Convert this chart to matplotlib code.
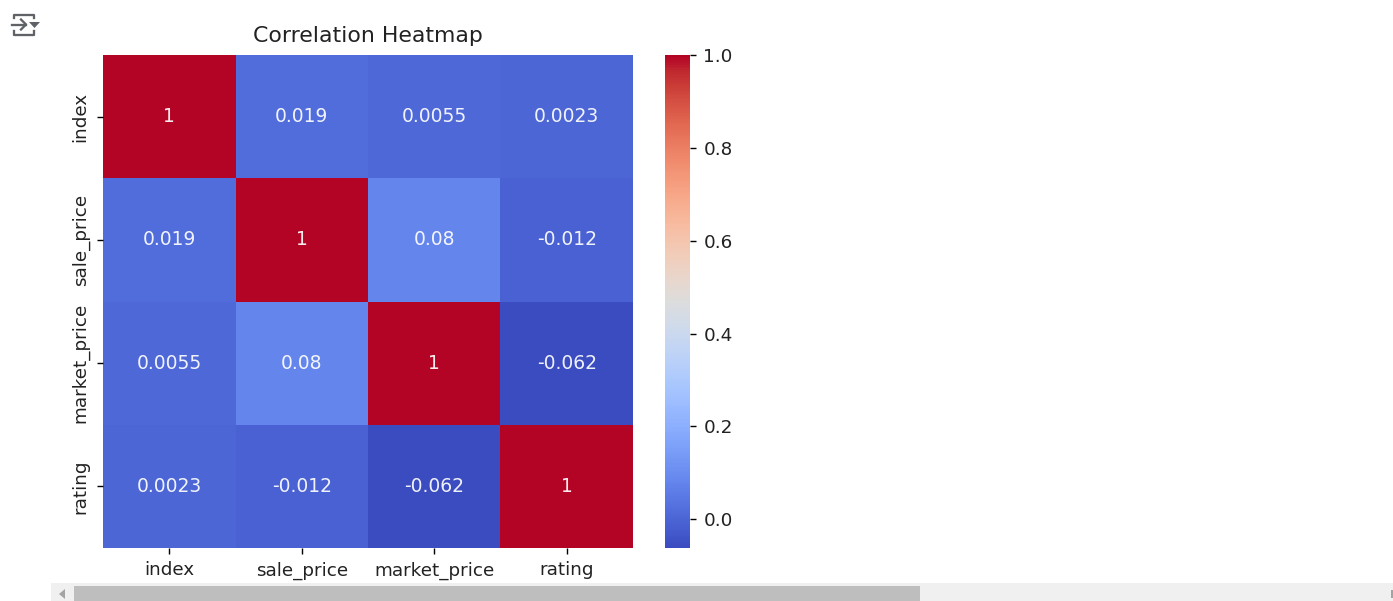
import numpy as np
import matplotlib
matplotlib.use("Agg")
import matplotlib.pyplot as plt
import seaborn as sns
from matplotlib.lines import Line2D
from matplotlib.patches import Rectangle, Polygon

W, H = 1393, 601
DPI = 144

columns = ["index", "sale_price", "market_price", "rating"]
corr = np.array([
    [1, 0.019, 0.0055, 0.0023],
    [0.019, 1, 0.08, -0.012],
    [0.0055, 0.08, 1, -0.062],
    [0.0023, -0.012, -0.062, 1],
])

plt.rcParams["text.color"] = "#222222"
plt.rcParams["xtick.labelcolor"] = "#222222"
plt.rcParams["ytick.labelcolor"] = "#222222"
plt.rcParams["axes.titlecolor"] = "#222222"
plt.rcParams["xtick.labelsize"] = 9.2
plt.rcParams["ytick.labelsize"] = 9.2
plt.rcParams["xtick.major.size"] = 3.2
plt.rcParams["ytick.major.size"] = 3.2
plt.rcParams["xtick.major.width"] = 0.7
plt.rcParams["ytick.major.width"] = 0.7


def box(x0, y0, x1, y1):
    return [x0 / W, 1 - y1 / H, (x1 - x0) / W, (y1 - y0) / H]


fig = plt.figure(figsize=(W / DPI, H / DPI), dpi=DPI)
ax = fig.add_axes(box(103, 55, 633, 548))
cax = fig.add_axes(box(665, 55, 690, 548))

sns.heatmap(corr, annot=True, annot_kws={"size": 9.4, "alpha": 0.92}, cmap="coolwarm",
            xticklabels=columns, yticklabels=columns, ax=ax, cbar_ax=cax)
ax.set_title("Correlation Heatmap", fontsize=11, pad=6.5)


# notebook chrome, in pixels
def px_line(xs, ys, color="#5f6368", lw=1.15):
    fig.add_artist(Line2D([x / W for x in xs], [1 - y / H for y in ys], color=color, lw=lw))


def px_rect(x0, y0, x1, y1, color):
    fig.add_artist(Rectangle((x0 / W, 1 - y1 / H), (x1 - x0) / W, (y1 - y0) / H,
                             color=color, lw=0, transform=fig.transFigure))


def px_poly(pts, color):
    fig.add_artist(Polygon([(x / W, 1 - y / H) for x, y in pts], color=color, lw=0,
                           transform=fig.transFigure))


# output toggle icon
px_line([14, 14, 33.5, 33.5], [18, 14.5, 14.5, 18])
px_line([14, 14, 33.5, 33.5], [31, 34.5, 34.5, 31])
px_line([12, 26], [24.5, 24.5])
px_line([21, 26, 21], [19.5, 24.5, 29.5])
px_poly([(29, 22), (40, 22), (34.5, 28)], "#5f6368")

# scrollbar
px_rect(51, 583, 1393, 601, "#f0f0f0")
px_rect(74, 586, 920, 601, "#bebebe")
px_poly([(59, 594), (65, 589), (65, 599)], "#a3a3a3")
px_rect(1391, 590, 1393, 598, "#a3a3a3")

fig.savefig("out.png", dpi=DPI)
